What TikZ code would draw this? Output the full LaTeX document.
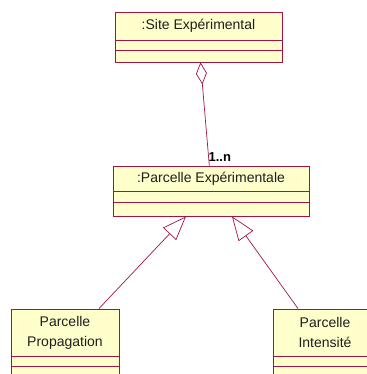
\documentclass[tikz,border=0pt]{standalone}
\usepackage{fontspec}
\setmainfont{Liberation Sans}
\usetikzlibrary{arrows.meta}
\definecolor{umlline}{RGB}{160,20,70}
\definecolor{umlfill}{RGB}{255,255,204}
\definecolor{umltext}{RGB}{30,30,30}
\tikzset{
  classname/.style={shape=rectangle,draw=umlline,fill=umlfill,line width=0.9pt,inner sep=0pt,align=center,text=umltext,font=\fontsize{14}{20}\selectfont},
  classpart/.style={shape=rectangle,draw=umlline,fill=umlfill,line width=0.9pt,inner sep=0pt},
  link/.style={draw=umlline,line width=0.7pt},
  agg/.style={link,{Diamond[open,length=22pt,width=11pt]}-},
  gen/.style={link,-{Triangle[open,length=24pt,width=18pt]}}
}
\begin{document}
\begin{tikzpicture}[x=1pt,y=-1pt]
\useasboundingbox (0,0) rectangle (366,374);
% site
\node[classname,minimum width=167pt,minimum height=28pt] (S) at (198.5,26) {:Site Expérimental};
\node[classpart,minimum width=167pt,minimum height=10pt] (S1) at (198.5,45) {};
\node[classpart,minimum width=167pt,minimum height=12pt] (S2) at (198.5,56) {};
% parcelle
\node[classname,minimum width=196pt,minimum height=25pt] (P) at (211,178.5) {:Parcelle Expérimentale};
\node[classpart,minimum width=196pt,minimum height=11pt] (P1) at (211,196.5) {};
\node[classpart,minimum width=196pt,minimum height=14pt] (P2) at (211,209) {};
% sous-classes
\node[classname,minimum width=108pt,minimum height=47pt] (L) at (65,332.5) {Parcelle\\Propagation};
\node[classpart,minimum width=108pt,minimum height=10pt] (L1) at (65,361) {};
\node[classpart,minimum width=108pt,minimum height=20pt] (L2) at (65,376) {};
\node[classname,minimum width=104pt,minimum height=47pt] (R) at (325,332.5) {Parcelle\\Intensité};
\node[classpart,minimum width=104pt,minimum height=10pt] (R1) at (325,361) {};
\node[classpart,minimum width=104pt,minimum height=20pt] (R2) at (325,376) {};
\path ([xshift=2pt]S2.south) edge[agg] node[pos=1,anchor=south west,inner sep=0pt,xshift=-1pt,yshift=4pt,font=\fontsize{13}{15}\bfseries] {1..n} ([xshift=-1.7pt]P.north);
\path ([xshift=34pt]L.north) edge[gen] ([xshift=-25pt]P2.south);
\path ([xshift=-27pt]R.north) edge[gen] ([xshift=21pt]P2.south);
\end{tikzpicture}
\end{document}
